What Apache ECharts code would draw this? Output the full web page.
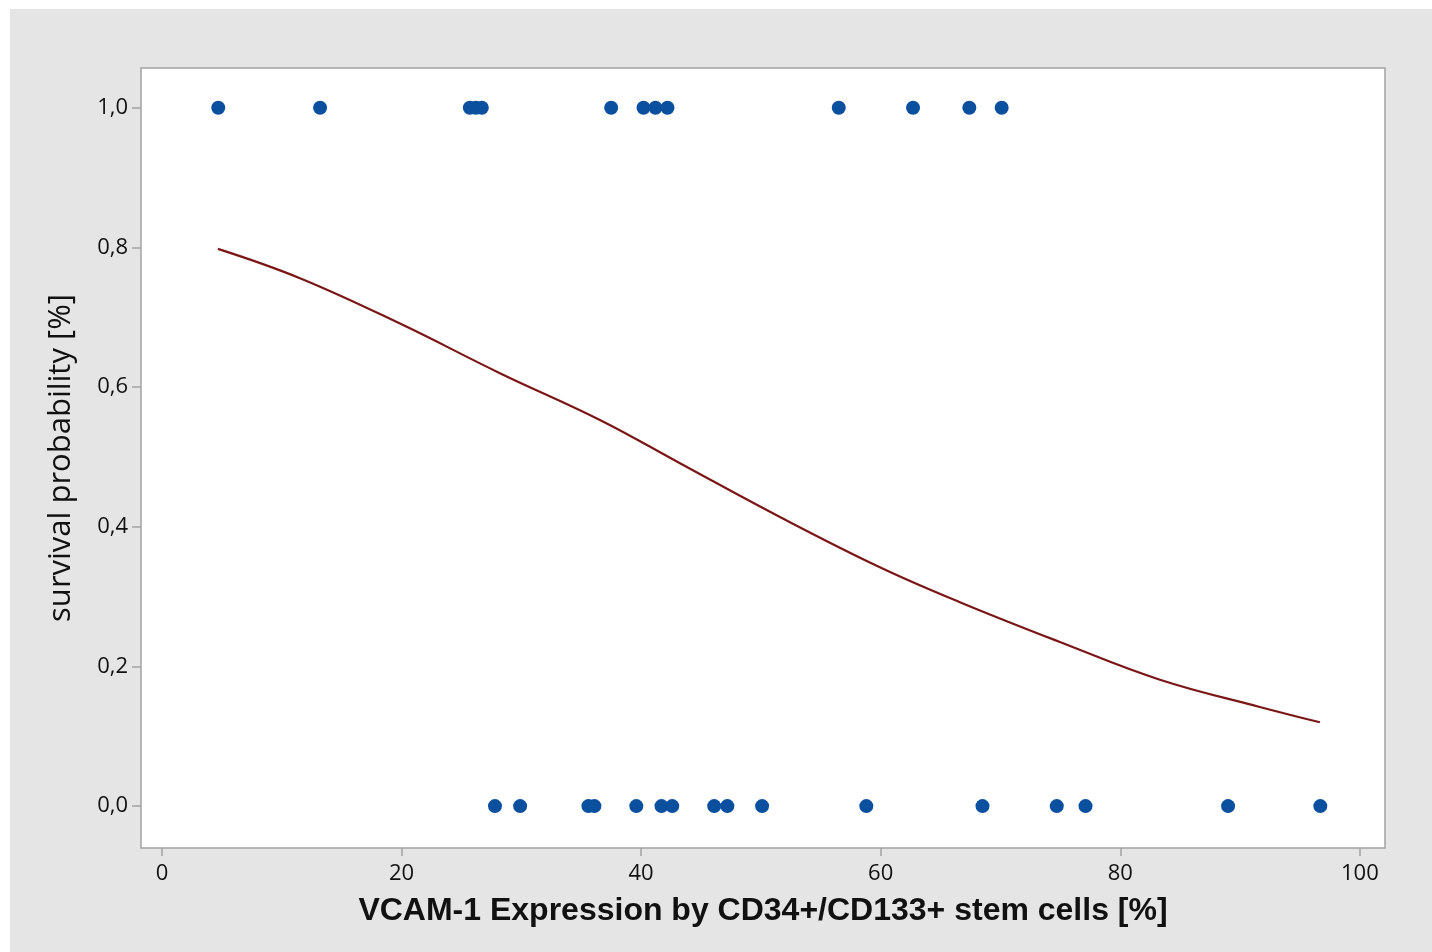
<!DOCTYPE html>
<html>
<head>
<meta charset="utf-8">
<script src="https://cdn.jsdelivr.net/npm/echarts@6/dist/echarts.min.js"></script>
<style>
html,body{margin:0;padding:0;background:#ffffff;}
#bg{position:absolute;left:10px;top:9px;right:0;bottom:0;background:#e5e5e5;}
#chart{position:absolute;left:0;top:0;width:1432px;height:952px;}
</style>
</head>
<body>
<div id="bg"></div>
<div id="chart"></div>
<script>
// Observed VCAM-1 expression (%) for survivors (outcome 1) and non-survivors (outcome 0)
const survivedX = [4.7, 13.2, 25.7, 26.2, 26.7, 37.5, 40.2, 41.2, 42.2, 56.5, 62.7, 67.4, 70.1];
const diedX = [27.8, 29.9, 35.6, 36.1, 39.6, 41.7, 42.6, 46.1, 47.2, 50.1, 58.8, 68.5, 74.7, 77.1, 89.0, 96.7];
// Fitted survival probability curve
const curveX = [4.67, 11.52, 19.87, 28.21, 36.56, 43.24, 51.59, 59.93, 66.61, 74.96, 83.31, 91.65, 96.66];
const curveY = [0.798, 0.756, 0.691, 0.620, 0.553, 0.491, 0.414, 0.342, 0.292, 0.235, 0.181, 0.142, 0.120];
const xTicks = [0, 20, 40, 60, 80, 100];
const yTicks = [0, 0.2, 0.4, 0.6, 0.8, 1.0];

const chart = echarts.init(document.getElementById('chart'), null, {renderer: 'canvas'});
const axisGrey = '#a3a3a3';
chart.setOption({
  backgroundColor: 'transparent',
  animation: false,
  grid: {left: 141, top: 68, width: 1244, height: 780, show: true, backgroundColor: '#ffffff', borderColor: axisGrey, borderWidth: 1.5},
  xAxis: {
    type: 'value', min: -1.75, max: 102.1,
    name: 'VCAM-1 Expression by CD34+/CD133+ stem cells [%]',
    nameLocation: 'middle', nameGap: 47,
    nameTextStyle: {fontFamily: 'Liberation Sans', fontWeight: 'bold', fontSize: 32, color: '#111'},
    axisLine: {show: false, onZero: false},
    splitLine: {show: false},
    axisTick: {show: true, length: 8, customValues: xTicks, lineStyle: {color: axisGrey, width: 1.5}},
    axisLabel: {customValues: xTicks, fontFamily: 'Open Sans', fontSize: 22, color: '#111', margin: 15},
  },
  yAxis: {
    type: 'value', min: -0.06, max: 1.057,
    name: 'survival probability [%]',
    nameLocation: 'middle', nameGap: 64,
    nameTextStyle: {fontFamily: 'Open Sans', fontSize: 31, color: '#111'},
    axisLine: {show: false, onZero: false},
    splitLine: {show: false},
    axisTick: {show: true, length: 9, customValues: yTicks, lineStyle: {color: axisGrey, width: 1.5}},
    axisLabel: {customValues: yTicks, fontFamily: 'Open Sans', fontSize: 22, color: '#111', margin: 13,
      formatter: v => v.toFixed(1).replace('.', ',')}
  },
  series: [
    {type: 'line', data: curveX.map((x, i) => [x, curveY[i]]), smooth: 0.4, showSymbol: false,
     lineStyle: {color: '#7a1616', width: 2.2}, z: 2},
    {type: 'scatter', data: survivedX.map(x => [x, 1]), symbol: 'circle', symbolSize: 14,
     itemStyle: {color: '#0b4f9f', opacity: 1}, z: 3},
    {type: 'scatter', data: diedX.map(x => [x, 0]), symbol: 'circle', symbolSize: 14,
     itemStyle: {color: '#0b4f9f', opacity: 1}, z: 3}
  ]
});
</script>
</body>
</html>
